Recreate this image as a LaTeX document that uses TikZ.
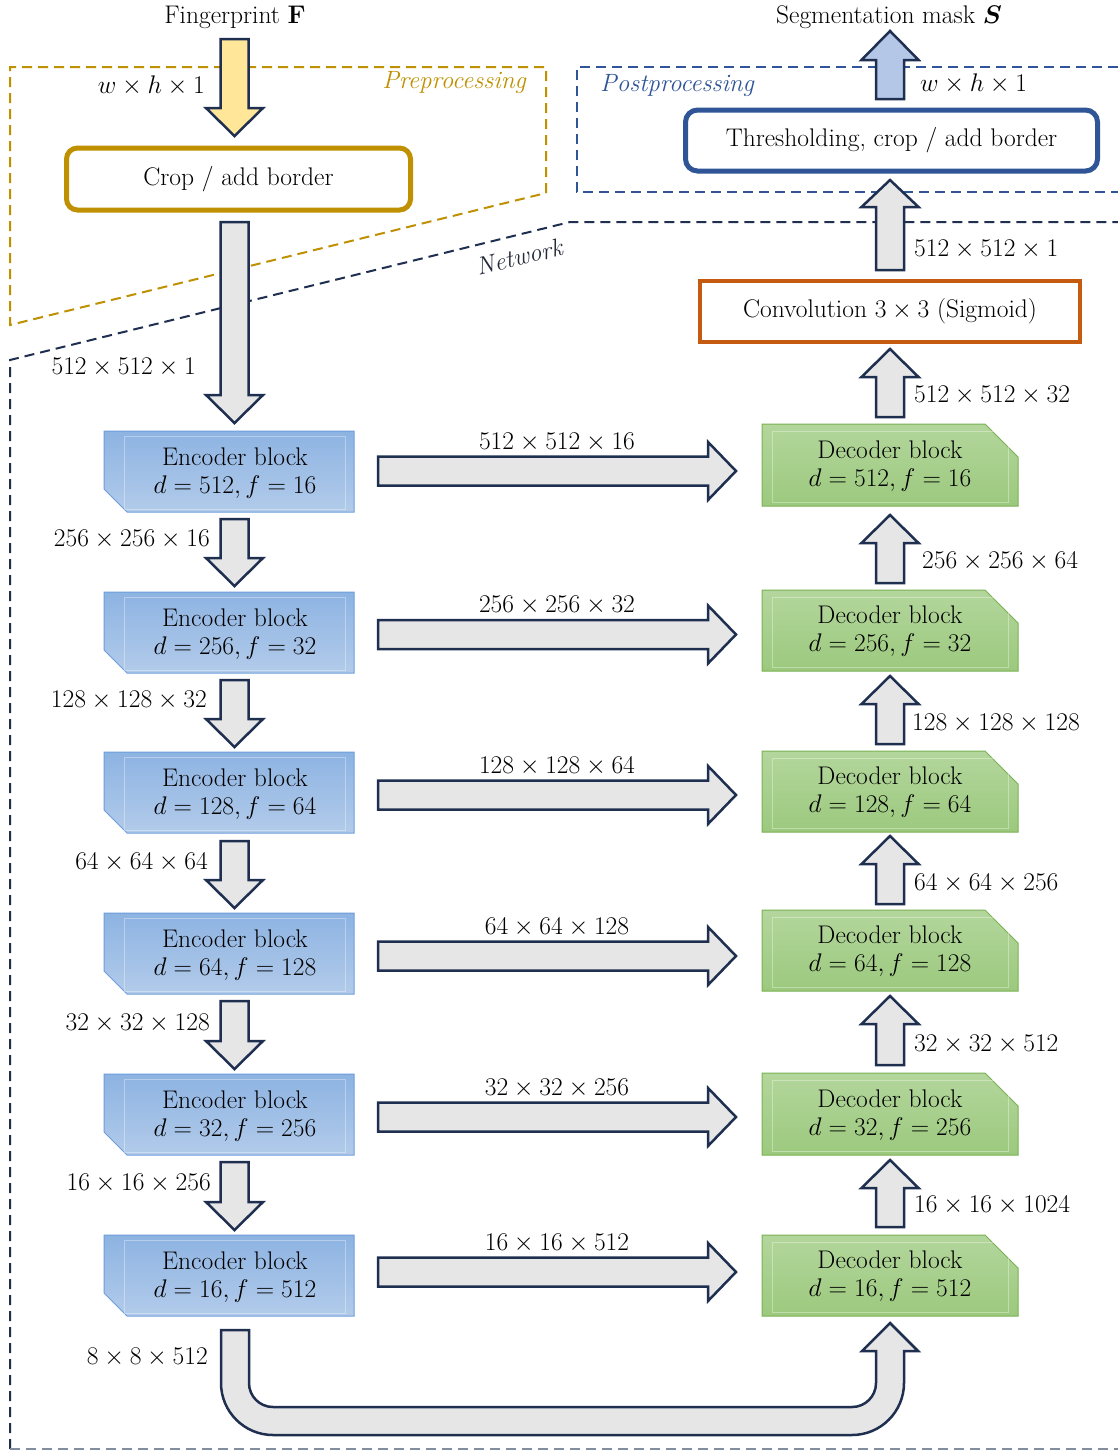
\RequirePackage{fix-cm}
\documentclass[tikz,border=0pt]{standalone}
\usepackage{amsmath,bm}
\usetikzlibrary{calc}
\definecolor{navy}{HTML}{1F2F50}
\definecolor{netText}{HTML}{222A38}
\definecolor{gold}{HTML}{BF9000}
\definecolor{postblue}{HTML}{2F5597}
\definecolor{convorange}{HTML}{C55A11}
\definecolor{grayfill}{HTML}{E6E6E6}
\definecolor{yellowfill}{HTML}{FFE699}
\definecolor{outblue}{HTML}{B4C7E7}
\definecolor{enctop}{HTML}{8DB3E2}
\definecolor{encbot}{HTML}{B2CBEA}
\definecolor{encline}{HTML}{6D9EDB}
\definecolor{dectop}{HTML}{B3D69C}
\definecolor{decbot}{HTML}{9CC97E}
\definecolor{decline}{HTML}{7AB253}
\tikzset{
  lbl/.style={inner sep=0pt, font=\fontsize{25.5}{28}\selectfont, align=center},
  itlbl/.style={inner sep=0pt, font=\fontsize{25}{28}\selectfont\itshape},
  fatarrow/.style={draw=navy, line width=2.5pt, fill=grayfill, line join=miter},
  encfill/.style={top color=enctop, bottom color=encbot, draw=encline, line width=1pt},
  decfill/.style={top color=dectop, bottom color=decbot, draw=decline, line width=1pt},
  innerframe/.style={draw=white, draw opacity=0.35, line width=0.8pt},
  netdash/.style={draw=navy, line width=2pt, dash pattern=on 10pt off 6pt},
  predash/.style={draw=gold, line width=2pt, dash pattern=on 10pt off 6pt},
  postdash/.style={draw=postblue, line width=2pt, dash pattern=on 10pt off 6pt},
}
% fat arrows: down {x}{ytop}{ytip}, up {x}{ybottom}{ytip}, right {x0}{xtip}{yc}
\newcommand\DownArr[4][fatarrow]{\draw[#1] ({#2-14},#3) -- ({#2+14},#3) -- ({#2+14},{#4-28}) -- ({#2+28.5},{#4-28}) -- (#2,#4) -- ({#2-28.5},{#4-28}) -- ({#2-14},{#4-28}) -- cycle;}
\newcommand\UpArr[4][fatarrow]{\draw[#1] ({#2-14},#3) -- ({#2-14},{#4+28}) -- ({#2-28.5},{#4+28}) -- (#2,#4) -- ({#2+28.5},{#4+28}) -- ({#2+14},{#4+28}) -- ({#2+14},#3) -- cycle;}
\newcommand\RightArr[3]{\draw[fatarrow] (#1,{#3-14.5}) -- ({#2-28},{#3-14.5}) -- ({#2-28},{#3-29}) -- (#2,#3) -- ({#2-28},{#3+29}) -- ({#2-28},{#3+14.5}) -- (#1,{#3+14.5}) -- cycle;}
\newcommand\EncBlock[5]{%
  \path[encfill] (104,#2) -- (354,#2) -- (354,#3) -- (127,#3) -- (104,{#3-23}) -- cycle;
  \draw[innerframe] (124,{#2+5}) rectangle (345,{#3-3});
  \node[lbl] (#1) at (235,{(#2+#3)/2+2}) {Encoder block\\$d=#4, f=#5$};}
\newcommand\DecBlock[5]{%
  \path[decfill] (762,#2) -- (985,#2) -- (1018,{#2+33}) -- (1018,#3) -- (762,#3) -- cycle;
  \draw[innerframe] (772,{#2+7}) rectangle (1008,{#3-4});
  \node[lbl] (#1) at (890,{(#2+#3)/2+1}) {Decoder block\\$d=#4, f=#5$};}
\begin{document}
\begin{tikzpicture}[x=1pt,y=-1pt]
\useasboundingbox[fill=white] (0,0) rectangle (1118,1451);

% dashed regions
\draw[predash] (546,193) -- (546,67) -- (10,67) -- (10,325) -- cycle;
\draw[postdash] (1118,67) -- (577,67) -- (577,192) -- (1118,192);
\draw[netdash] (10,1449) -- (10,360) -- (570,222) -- (1118,222);
\draw[netdash, draw=navy!55] (10,1449) -- (1118,1449);
\node[itlbl, text=netText, rotate=13.7] (netlbl) at (519,257) {Network};
\node[itlbl, text=gold, anchor=east] (prelbl) at (526,83) {Preprocessing};
\node[itlbl, text=postblue, anchor=west] (postlbl) at (600,86) {Postprocessing};

% input / preprocessing
\node[lbl] (fp) at (235,17) {Fingerprint \textbf{F}};
\DownArr[fatarrow, fill=yellowfill]{234.5}{39}{136}
\node[lbl, anchor=east] (inlbl) at (205,86) {$w\times h\times 1$};
\node[lbl, draw=gold, line width=5pt, rounded corners=11pt, minimum width=344pt, minimum height=62pt] (crop) at (238.5,179) {Crop / add border};
\DownArr{234.5}{222}{423}
\node[lbl, anchor=east] (l0) at (196,367) {$512\times 512\times 1$};

% encoder
\EncBlock{enc1}{431}{512}{512}{16}
\EncBlock{enc2}{592}{673}{256}{32}
\EncBlock{enc3}{752}{833}{128}{64}
\EncBlock{enc4}{913}{994}{64}{128}
\EncBlock{enc5}{1074}{1155}{32}{256}
\EncBlock{enc6}{1235}{1316}{16}{512}
\DownArr{234.5}{519}{586}
\DownArr{234.5}{680}{747}
\DownArr{234.5}{841}{908}
\DownArr{234.5}{1001}{1069}
\DownArr{234.5}{1162}{1230}
\node[lbl, anchor=east] (l1) at (210,539) {$256\times 256\times 16$};
\node[lbl, anchor=east] (l2) at (207,700) {$128\times 128\times 32$};
\node[lbl, anchor=east] (l3) at (208,862) {$64\times 64\times 64$};
\node[lbl, anchor=east] (l4) at (210,1023) {$32\times 32\times 128$};
\node[lbl, anchor=east] (l5) at (211,1183) {$16\times 16\times 256$};

% skip connections
\RightArr{378}{736}{471}
\RightArr{378}{736}{634.5}
\RightArr{378}{736}{795}
\RightArr{378}{736}{956}
\RightArr{378}{736}{1117}
\RightArr{378}{736}{1272}
\node[lbl] (s1) at (557,442) {$512\times 512\times 16$};
\node[lbl] (s2) at (557,605) {$256\times 256\times 32$};
\node[lbl] (s3) at (557,766) {$128\times 128\times 64$};
\node[lbl] (s4) at (557,927) {$64\times 64\times 128$};
\node[lbl] (s5) at (557,1088) {$32\times 32\times 256$};
\node[lbl] (s6) at (557,1243) {$16\times 16\times 512$};

% decoder
\DecBlock{dec1}{424}{506}{512}{16}
\DecBlock{dec2}{590}{671}{256}{32}
\DecBlock{dec3}{751}{832}{128}{64}
\DecBlock{dec4}{910}{991}{64}{128}
\DecBlock{dec5}{1073}{1155}{32}{256}
\DecBlock{dec6}{1235}{1316}{16}{512}
\UpArr{890}{583}{515}
\UpArr{890}{744}{676}
\UpArr{890}{904}{836}
\UpArr{890}{1065}{996}
\UpArr{890}{1227}{1160}
\UpArr{890}{417}{349}
\node[lbl, anchor=west] (r1) at (914,395) {$512\times 512\times 32$};
\node[lbl, anchor=west] (r2) at (922,561) {$256\times 256\times 64$};
\node[lbl, anchor=west] (r3) at (912,723) {$128\times 128\times 128$};
\node[lbl, anchor=west] (r4) at (914,883) {$64\times 64\times 256$};
\node[lbl, anchor=west] (r5) at (914,1044) {$32\times 32\times 512$};
\node[lbl, anchor=west] (r6) at (914,1205) {$16\times 16\times 1024$};

% bottleneck U-arrow
\draw[fatarrow] (221,1330) -- (249,1330) -- (249,1383)
  .. controls (249,1396.3) and (259.7,1407) .. (273,1407)
  -- (852,1407)
  .. controls (865.3,1407) and (876,1396.3) .. (876,1383)
  -- (876,1351) -- (862,1351) -- (890,1323) -- (918,1351) -- (904,1351) -- (904,1383)
  .. controls (904,1411.7) and (880.7,1435) .. (852,1435)
  -- (273,1435)
  .. controls (244.3,1435) and (221,1411.7) .. (221,1383) -- cycle;
\node[lbl, anchor=east] (l6) at (208,1357) {$8\times 8\times 512$};

% conv + postprocessing
\node[lbl, draw=convorange, line width=4pt, minimum width=380pt, minimum height=61pt] (conv) at (890,311) {Convolution $3\times 3$ (Sigmoid)};
\draw[fatarrow] (876,270) -- (876,207) -- (861.5,207) -- (890,180) -- (918.5,207) -- (904,207) -- (904,270) -- cycle;
\node[lbl, anchor=west] (r0) at (914,249) {$512\times 512\times 1$};
\node[lbl, draw=postblue, line width=5pt, rounded corners=12pt, minimum width=412pt, minimum height=61pt] (thr) at (891.5,140.5) {Thresholding, crop / add border};
\draw[fatarrow, fill=outblue] (876,99) -- (876,60) -- (861.5,60) -- (890,31) -- (918.5,60) -- (904,60) -- (904,99) -- cycle;
\node[lbl, anchor=west] (outlbl) at (920,84) {$w\times h\times 1$};
\node[lbl] (seg) at (889,17) {Segmentation mask $\bm{S}$};
\end{tikzpicture}
\end{document}
